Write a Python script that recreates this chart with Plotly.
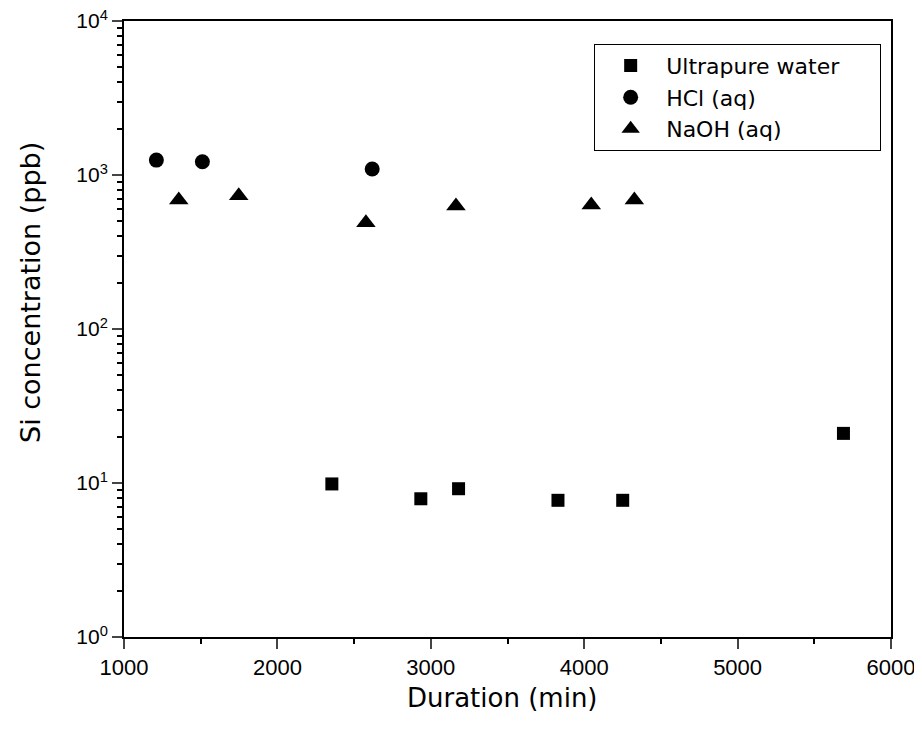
import plotly.graph_objects as go

water_x = [2355, 2935, 3181, 3829, 4251, 5690]
water_y = [9.86, 7.9, 9.18, 7.72, 7.72, 21.0]
hcl_x = [1211, 1511, 2618]
hcl_y = [1250, 1220, 1094]
naoh_x = [1357, 1748, 2577, 3164, 4046, 4327]
naoh_y = [689, 734, 490, 629, 638, 689]

y_tickvals = [1, 10, 100, 1000, 10000]
y_ticktext = ["10<sup>0</sup>", "10<sup>1</sup>", "10<sup>2</sup>", "10<sup>3</sup>", "10<sup>4</sup>"]
x_tickvals = [1000, 2000, 3000, 4000, 5000, 6000]
x_title = "Duration (min)"
y_title = "Si concentration (ppb)"
series_names = ["Ultrapure water", "HCl (aq)", "NaOH (aq)"]

title_font = "DejaVu Sans"
tick_font = "Liberation Sans"
pad = "\u00a0" * 5  # invisible padding to widen the legend box

fig = go.Figure()
fig.add_trace(go.Scatter(x=water_x, y=water_y, mode="markers", name=series_names[0] + pad,
                         marker=dict(symbol="square", size=13, color="black")))
fig.add_trace(go.Scatter(x=hcl_x, y=hcl_y, mode="markers", name=series_names[1],
                         marker=dict(symbol="circle", size=15, color="black")))
fig.add_trace(go.Scatter(x=naoh_x, y=naoh_y, mode="markers", name=series_names[2],
                         marker=dict(symbol="triangle-up", size=17, color="black")))

minor_y = [m * 10 ** e for e in range(0, 4) for m in range(2, 10)]

fig.update_layout(
    width=922, height=738,
    margin=dict(l=116, r=39, t=13, b=109, autoexpand=False),
    plot_bgcolor="white", paper_bgcolor="white",
    showlegend=True,
    legend=dict(x=0.613, y=0.963, xanchor="left", yanchor="top",
                bordercolor="black", borderwidth=1, bgcolor="white",
                font=dict(family=title_font, size=22, color="black"),
                itemwidth=61, tracegroupgap=0),
    xaxis=dict(range=[1000, 6000], tickvals=x_tickvals, ticks="outside", ticklen=10, tickwidth=2,
               showline=True, linewidth=2, linecolor="black", mirror=True, showgrid=False, zeroline=False,
               automargin=False, ticklabeloverflow="allow",
               tickfont=dict(family=tick_font, size=22, color="black"),
               minor=dict(tickvals=[1500, 2500, 3500, 4500, 5500], ticks="outside", ticklen=5, tickwidth=2, tickcolor="black")),
    yaxis=dict(type="log", range=[0, 4], tickvals=y_tickvals, ticktext=y_ticktext, ticks="outside", ticklen=10, tickwidth=2,
               showline=True, linewidth=2, linecolor="black", mirror=True, showgrid=False, zeroline=False,
               automargin=False, ticklabeloverflow="allow",
               tickfont=dict(family=tick_font, size=21, color="black"),
               minor=dict(tickvals=minor_y, ticks="outside", ticklen=5, tickwidth=2, tickcolor="black")),
    annotations=[
        dict(text=x_title, xref="paper", yref="paper", x=0.493, y=-0.099, xanchor="center", yanchor="middle",
             showarrow=False, font=dict(family=title_font, size=26, color="black")),
        dict(text=y_title, xref="paper", yref="paper", x=-0.1226, y=0.56, xanchor="center", yanchor="middle",
             textangle=-90, showarrow=False, font=dict(family=title_font, size=27, color="black")),
    ],
)

fig.write_html("out.html")
